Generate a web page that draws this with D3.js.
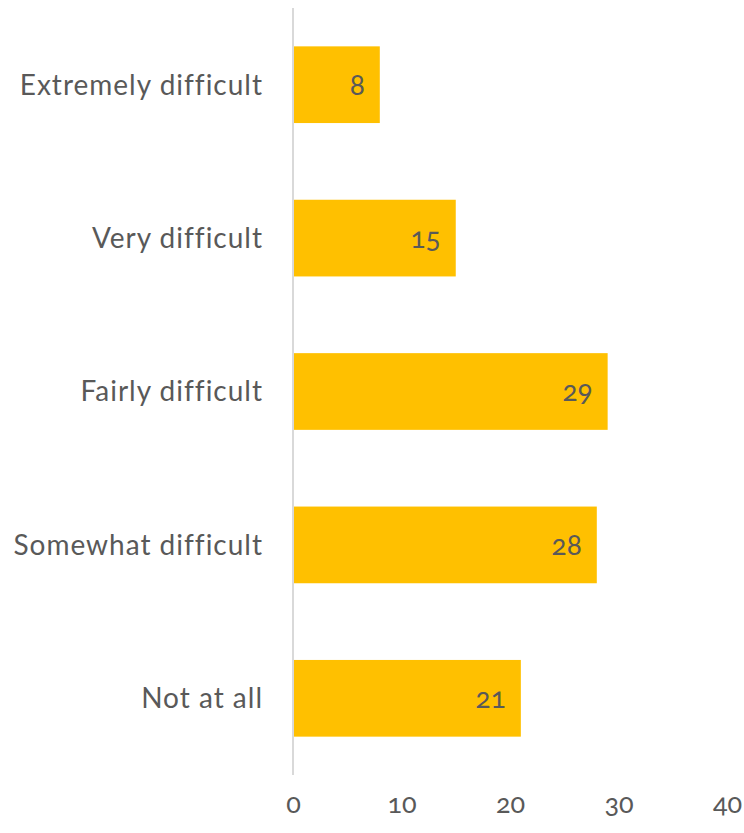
<!DOCTYPE html>
<html>
<head>
<meta charset="utf-8">
<script src="https://cdn.jsdelivr.net/npm/d3@7"></script>
<style>
  html, body { margin: 0; padding: 0; background: #fff; }
  svg text { font-family: Lato, "Open Sans", sans-serif; fill: #595959; font-variant-numeric: oldstyle-nums; }
</style>
</head>
<body>
<svg id="chart" width="744" height="833"></svg>
<script>
// Difficulty ratings and their counts
const categories = ["Extremely difficult", "Very difficult", "Fairly difficult", "Somewhat difficult", "Not at all"];
const values = [8, 15, 29, 28, 21];
const xTicks = [0, 10, 20, 30, 40];

const svg = d3.select("#chart");
const margin = { left: 293, right: 17, top: 8, bottom: 58 };
const width = 744, height = 833;

const x = d3.scaleLinear().domain([0, 40]).range([margin.left, width - margin.right]);
const y = d3.scaleBand().domain(categories)
  .range([margin.top, height - margin.bottom])
  .paddingInner(0.5).paddingOuter(0.25);

// bars
svg.append("g").selectAll("rect")
  .data(categories)
  .join("rect")
  .attr("x", x(0))
  .attr("y", d => y(d))
  .attr("width", (d, i) => x(values[i]) - x(0))
  .attr("height", y.bandwidth())
  .attr("fill", "#FFC000");

// vertical category axis line
svg.append("line")
  .attr("x1", x(0)).attr("x2", x(0))
  .attr("y1", margin.top).attr("y2", height - margin.bottom)
  .attr("stroke", "#D9D9D9").attr("stroke-width", 2);

// category labels
svg.append("g").selectAll("text")
  .data(categories)
  .join("text")
  .attr("x", x(0) - 30)
  .attr("y", d => y(d) + y.bandwidth() / 2)
  .attr("dy", "0.35em")
  .attr("text-anchor", "end")
  .attr("font-size", 28)
  .attr("letter-spacing", 1)
  .text(d => d);

// value labels inside bar ends
svg.append("g").selectAll("text")
  .data(categories)
  .join("text")
  .attr("x", (d, i) => x(values[i]) - 15)
  .attr("y", d => y(d) + y.bandwidth() / 2)
  .attr("dy", "0.35em")
  .attr("text-anchor", "end")
  .attr("font-size", 28)
  .text((d, i) => values[i]);

// value axis tick labels
const xAxis = d3.axisBottom(x).tickValues(xTicks).tickSize(0).tickPadding(0);
const gx = svg.append("g")
  .attr("transform", `translate(0, ${height - margin.bottom + 19})`)
  .call(xAxis);
gx.select(".domain").remove();
gx.selectAll("text")
  .attr("font-size", 27)
  .attr("font-family", null)
  .attr("fill", null)
  .attr("dy", "0.71em");
</script>
</body>
</html>
